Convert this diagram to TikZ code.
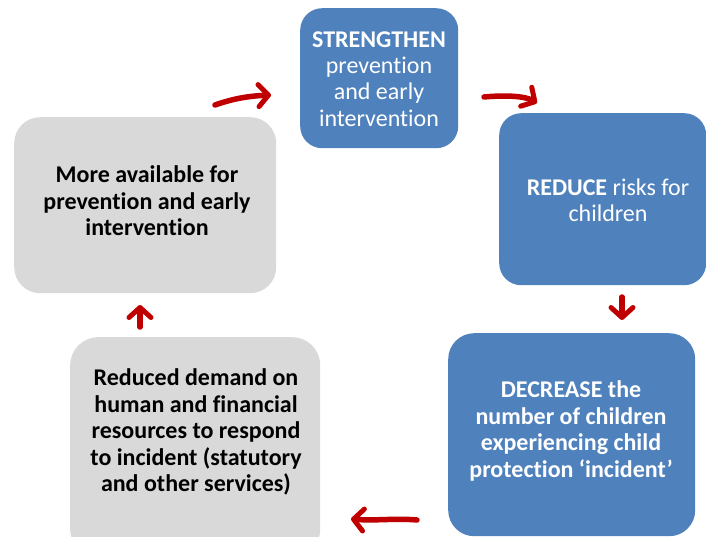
\documentclass[tikz,border=0pt]{standalone}
\usepackage{fontspec}
\setmainfont{Carlito}[RawFeature={-liga;-clig;-calt;-dlig}]
\usetikzlibrary{arrows.meta}
\definecolor{boxblue}{HTML}{4F81BD}
\definecolor{boxgray}{HTML}{D9D9D9}
\definecolor{arrowred}{HTML}{C00000}
\begin{document}
\begin{tikzpicture}[x=1pt,y=-1pt,
  cyclebox/.style={rounded corners=22pt, inner sep=0pt, anchor=north west},
  bluebox/.style={cyclebox, fill=boxblue},
  graybox/.style={cyclebox, fill=boxgray},
  boxtext/.style={align=center, font=\fontsize{24}{26.4}\selectfont},
  whitetext/.style={boxtext, text=white},
  blacktext/.style={boxtext, text=black, font=\fontsize{24}{26.4}\selectfont\bfseries},
  cyclearrow/.style={draw=arrowred, line width=5.5pt, line cap=round,
    -{Straight Barb[length=10pt, width=22pt, line width=5pt, round]}}]
\useasboundingbox (0,0) rectangle (706,537);
\begin{scope}
\clip (0,0) rectangle (706,537);

% the five stages of the cycle
\node[bluebox, minimum width=158pt, minimum height=140pt] (strengthen) at (300,8) {};
\node[whitetext] (strengthenT) at (379,79) {\textbf{STRENGTHEN}\\prevention\\and early\\intervention};

\node[bluebox, minimum width=207pt, minimum height=172pt] (reduce) at (499,113) {};
\node[whitetext] (reduceT) at (608,200) {\textbf{REDUCE} risks for\\children};

\node[bluebox, minimum width=247pt, minimum height=203pt, rounded corners=26pt] (decrease) at (448,333) {};
\node[whitetext, font=\fontsize{24}{26.4}\selectfont\bfseries] (decreaseT) at (571,431) {DECREASE the\\number of children\\experiencing child\\protection ‘incident’};

\node[graybox, minimum width=250pt, minimum height=220pt, rounded corners=28pt] (demand) at (70,337) {};
\node[blacktext] (demandT) at (196,432) {Reduced demand on\\human and financial\\resources to respond\\to incident (statutory\\and other services)};

\node[graybox, minimum width=262pt, minimum height=176pt, rounded corners=26pt] (available) at (14,117) {};
\node[blacktext] (availableT) at (147,201) {More available for\\prevention and early\\intervention};

% arrow end points between the stages
\coordinate (a1s) at (215,105);
\coordinate (a1e) at (271,95);
\coordinate (a2s) at (484,97);
\coordinate (a2e) at (537,103);
\coordinate (a3s) at (622,297);
\coordinate (a3e) at (622,320);
\coordinate (a4s) at (417,520);
\coordinate (a4e) at (351,519);
\coordinate (a5s) at (140,327);
\coordinate (a5e) at (140,305);

\draw[cyclearrow] (a1s) .. controls (235,98) and (250,96) .. (a1e);
\draw[cyclearrow] (a2s) .. controls (505,95) and (525,96) .. (a2e);
\draw[cyclearrow] (a3s) -- (a3e);
\draw[cyclearrow] (a4s) .. controls (395,518) and (375,521) .. (a4e);
\draw[cyclearrow] (a5s) -- (a5e);
\end{scope}
\end{tikzpicture}
\end{document}
